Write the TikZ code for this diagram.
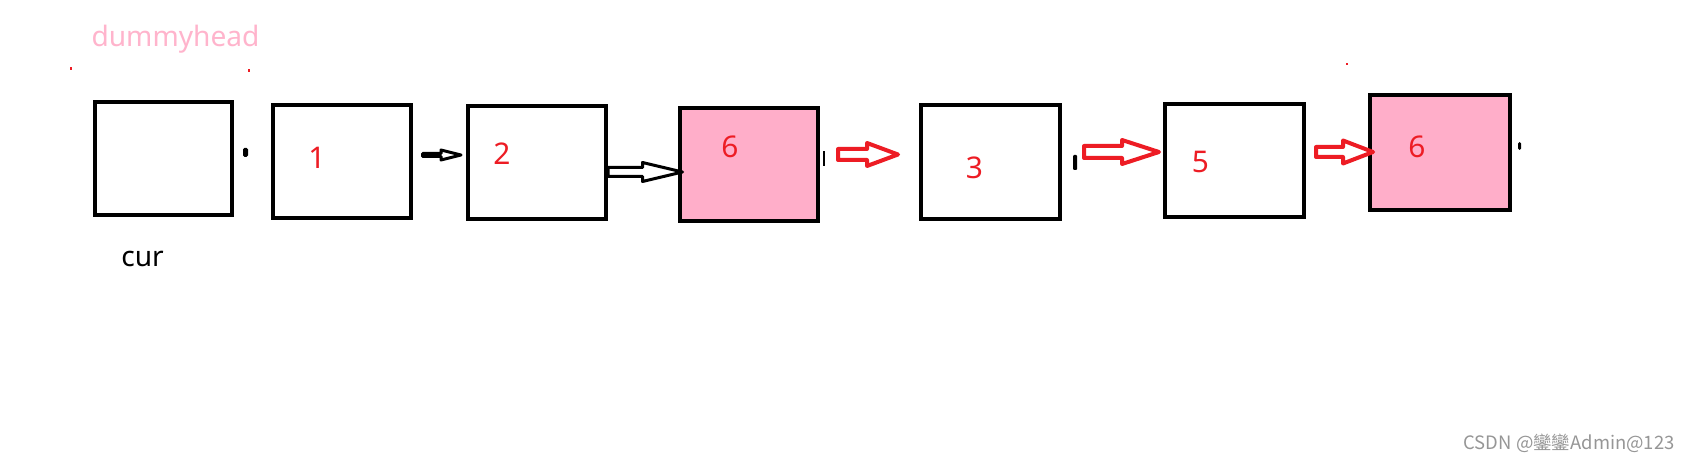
\documentclass[tikz,border=0pt]{standalone}
\usepackage{fontspec}
\setmainfont{Noto Sans}
\newfontfamily\cjkfont{Noto Sans CJK SC}
\usetikzlibrary{calc}
\definecolor{llPink}{RGB}{255,174,201}
\definecolor{llHead}{RGB}{255,180,204}
\definecolor{llRed} {RGB}{237, 28, 36}
\definecolor{llMark}{RGB}{150,150,150}

\begin{document}
\begin{tikzpicture}[
  x=0.2mm, y=-0.2mm,
  cell/.style={draw=black,line width=0.8mm,inner sep=0pt,
               minimum width=27.6mm,minimum height=22.6mm},
  hot/.style={cell,fill=llPink},
  val/.style={text=llRed,inner sep=0pt,font=\fontsize{17}{20}\selectfont},
  shaftw/.store in=\arrShaft, headw/.store in=\arrHead, headl/.store in=\arrLen,
  shaftw=5, headw=11, headl=30,
  hollow/.style={line join=round,to path={
    let \p1=(\tikztostart), \p2=(\tikztotarget) in
    (\x1,\y1+\arrShaft*0.2mm) -- (\x2-\arrLen*0.2mm,\y1+\arrShaft*0.2mm)
    -- (\x2-\arrLen*0.2mm,\y1+\arrHead*0.2mm) -- (\x2,\y1)
    -- (\x2-\arrLen*0.2mm,\y1-\arrHead*0.2mm)
    -- (\x2-\arrLen*0.2mm,\y1-\arrShaft*0.2mm)
    -- (\x1,\y1-\arrShaft*0.2mm) -- cycle}},
  blkarr/.style={hollow,draw=black,line width=0.6mm},
  redarr/.style={hollow,draw=llRed,line width=0.8mm}
]
\fill[white] (0,0) rectangle (1691,463);
\useasboundingbox (0,0) rectangle (1691,463);

% list cells
\node[cell,minimum width=27.4mm] (n0)  at (163.5,158.5) {};
\node[cell] (n1)  at (342,161.5) {};
\node[cell] (n2)  at (537,162.5) {};
\node[hot]  (n6a) at (749,164.5) {};
\node[cell,minimum width=27.8mm,minimum height=22.8mm] (n3) at (990.5,162) {};
\node[cell,minimum width=27.8mm] (n5) at (1234.5,160.5) {};
\node[hot,minimum width=28mm,minimum height=23mm] (n6b) at (1440,152.5) {};

% values
\node[val] (v1)  at (317,157.5)  {1};
\node[val] (v2)  at (502,154)    {2};
\node[val] (v6a) at (730,147)    {6};
\node[val] (v3)  at (974.5,168)  {3};
\node[val] (v5)  at (1200.5,161.5) {5};
\node[val] (v6b) at (1417,146.5) {6};

\node[text=llHead,anchor=base,inner sep=0pt,font=\fontsize{16}{19}\selectfont]
  (dh) at (175.5,47) {dummyhead};
\node[anchor=base,inner sep=0pt,font=\fontsize{16}{19}\selectfont]
  (cur) at (142.5,267) {cur};

% arrow tails
\coordinate (a12s) at (422.5,155);
\coordinate (r1s)  at (838,154.5);
\coordinate (r2s)  at (1084,152);
\coordinate (r3s)  at (1316,152);

\draw[blkarr,shaftw=1.5,headw=5,headl=20] (a12s) to ([xshift=-1mm]n2.west);
\draw[blkarr,shaftw=4.5,headw=9.5,headl=40] ([yshift=-1.9mm]n2.east) to ([xshift=0.9mm]n6a.west);
\draw[redarr,shaftw=5.5,headw=11.5,headl=31] (r1s) to ([xshift=-4.2mm]n3.west);
\draw[redarr,shaftw=6,headw=12,headl=37] (r2s) to ([xshift=-0.8mm]n5.west);
\draw[redarr,shaftw=5,headw=11.5,headl=30] (r3s) to ([xshift=1mm]n6b.west);

% stray marks
\fill[black,rounded corners=0.3mm] (243,148) rectangle (248,157);
\fill[black] (822.5,151) rectangle (824.5,166);
\fill[black,rounded corners=0.2mm] (1073,155) rectangle (1077,170);
\fill[black,rounded corners=0.3mm] (1518,142) rectangle (1521,150);
\fill[llRed] (70,67) rectangle (72,70);
\fill[llRed] (248,69) rectangle (250,72);
\fill[llRed] (1346,63) rectangle (1348,65);

\node[anchor=base east,text=llMark,inner sep=0pt,font=\cjkfont\fontsize{10.5}{12}\selectfont]
  (wm) at (1675,450) {CSDN @鑾鑾Admin@123};
\end{tikzpicture}
\end{document}
